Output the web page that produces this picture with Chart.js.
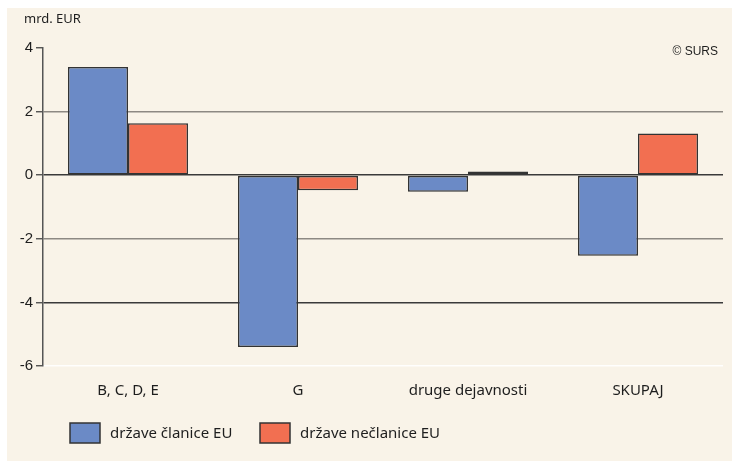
<!DOCTYPE html>
<html>
<head>
<meta charset="utf-8">
<script src="https://cdn.jsdelivr.net/npm/chart.js@4.4.1/dist/chart.umd.min.js"></script>
<style>
  html, body { margin:0; padding:0; background:#fff; }
  canvas { display:block; }
</style>
</head>
<body>
<canvas id="chart" width="732" height="461"></canvas>
<script>
const categories = ["B, C, D, E", "G", "druge dejavnosti", "SKUPAJ"];
const members = [3.40, -5.40, -0.52, -2.53];
const nonMembers = [1.63, -0.47, 0.12, 1.31];
const seriesNames = ["države članice EU", "države nečlanice EU"];
const unitLabel = "mrd. EUR";
const sourceLabel = "© SURS";

const BLUE = "#6b8ac6";
const ORANGE = "#f26f51";
const CREAM = "#f9f3e8";

/* background, unit, source and legend */
const decor = {
  id: "decor",
  beforeDraw(chart) {
    const c = chart.ctx;
    c.save();
    c.fillStyle = "#fff";
    c.fillRect(0, 0, chart.width, chart.height);
    c.fillStyle = CREAM;
    c.fillRect(7, 8, chart.width - 7, chart.height - 8);
    c.restore();
  },
  afterDraw(chart) {
    const c = chart.ctx;
    c.save();
    c.fillStyle = "#1e1e1e";
    c.textBaseline = "middle";
    c.font = "13px 'Noto Sans'";
    c.fillText(unitLabel, 24, 19);
    c.font = "12px 'Liberation Sans'";
    c.textAlign = "right";
    c.fillText(sourceLabel, 718, 52);

    // legend
    c.textAlign = "left";
    c.font = "15px 'Noto Sans'";
    const xs = [70, 260];
    chart.data.datasets.forEach((ds, i) => {
      c.fillStyle = ds.backgroundColor;
      c.fillRect(xs[i], 423, 30, 20);
      c.strokeStyle = "#333";
      c.lineWidth = 1.5;
      c.strokeRect(xs[i], 423, 30, 20);
      c.fillStyle = "#1e1e1e";
      c.fillText(ds.label, xs[i] + 40, 434);
    });
    c.restore();
  }
};

function gridColor(ctx) {
  const v = ctx.tick && ctx.tick.value;
  if (v === 0 || v === -4) return "#3a3a3a";
  if (v === 2 || v === -2) return "#8d8983";
  if (v === -6) return "rgba(255,255,255,0.9)";
  return "rgba(0,0,0,0)";
}

new Chart(document.getElementById("chart"), {
  type: "bar",
  data: {
    labels: categories,
    datasets: [
      { label: seriesNames[0], data: members, backgroundColor: BLUE,
        borderColor: "#333", borderWidth: 1.5, borderSkipped: false },
      { label: seriesNames[1], data: nonMembers, backgroundColor: ORANGE,
        borderColor: "#333", borderWidth: 1.5, borderSkipped: false }
    ]
  },
  options: {
    responsive: false,
    animation: false,
    devicePixelRatio: 1,
    layout: { padding: { left: 0, top: 48, right: 9, bottom: 0 } },
    plugins: { legend: { display:false }, tooltip: { enabled:false } },
    datasets: { bar: { categoryPercentage: 0.706, barPercentage: 1.0 } },
    scales: {
      x: {
        grid: { display:false },
        border: { display:false },
        ticks: { color:"#1e1e1e", padding: 8, font: { family:"'Noto Sans'", size: 15 } },
        afterFit: s => { s.height = 95; }
      },
      y: {
        min: -6, max: 4,
        ticks: { stepSize: 2, color:"#1e1e1e", padding: 3,
                 font: { family:"'Liberation Sans'", size: 15 } },
        grid: { color: gridColor, lineWidth: 1.5, drawTicks: true, tickLength: 7,
                tickColor: "#444", tickWidth: 1.3 },
        border: { color:"#555", width: 1.5 },
        afterFit: s => { s.width = 43; }
      }
    }
  },
  plugins: [decor]
});
</script>
</body>
</html>
